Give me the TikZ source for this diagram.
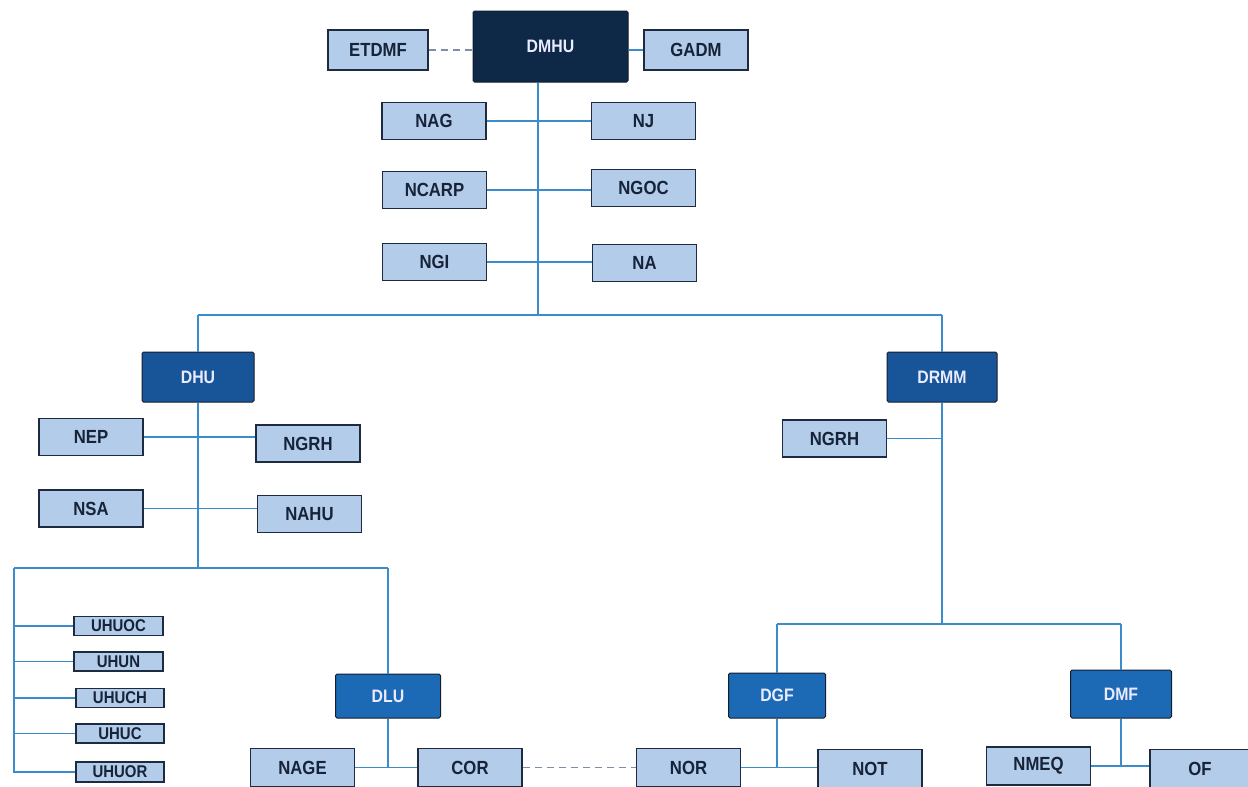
\documentclass[tikz,border=0pt]{standalone}
\usepackage{fontspec}
\setmainfont{Liberation Sans}[FakeStretch=0.88]
\definecolor{lineblue}{HTML}{3A8CCB}
\definecolor{lightfill}{HTML}{B2CCE9}
\definecolor{boxborder}{HTML}{1E2A40}
\definecolor{textnavy}{HTML}{162338}
\definecolor{topfill}{HTML}{0E2848}
\definecolor{dirfill}{HTML}{175598}
\definecolor{subfill}{HTML}{1C69B5}
\definecolor{dashgray}{HTML}{7D8DA5}
\tikzset{
  lbox/.style={draw=boxborder, fill=lightfill, line width=1.3pt, inner sep=0pt,
    text=textnavy, font=\fontsize{19}{19}\selectfont\bfseries, minimum width=104pt, minimum height=37pt},
  sbox/.style={lbox, font=\fontsize{17}{17}\selectfont\bfseries, minimum width=89pt, minimum height=19pt},
  dbox/.style={draw=boxborder!70!black, line width=1pt, rounded corners=1.5pt, inner sep=0pt,
    text=white!92!blue, font=\fontsize{18}{18}\selectfont\bfseries},
  conn/.style={draw=lineblue, line width=1.5pt},
  dconn/.style={draw=dashgray, line width=1.5pt, dash pattern=on 7pt off 5pt},
}
\begin{document}
\begin{tikzpicture}[x=1pt,y=-1pt]
\useasboundingbox (0,0) rectangle (1248,787);
% top
\node[dbox, fill=topfill, minimum width=155pt, minimum height=71pt] (dmhu) at (550.5,46.5) {DMHU};
\node[lbox, minimum width=100pt, minimum height=40pt] (etdmf) at (378,50) {ETDMF};
\node[lbox, minimum width=104pt, minimum height=40pt] (gadm) at (696,50) {GADM};
\node[lbox] (nag) at (434,121) {NAG};
\node[lbox] (nj) at (643.5,121) {NJ};
\node[lbox] (ncarp) at (434.5,190) {NCARP};
\node[lbox] (ngoc) at (643.5,188) {NGOC};
\node[lbox] (ngi) at (434.5,262) {NGI};
\node[lbox] (na) at (644.5,263) {NA};
% directorates
\node[dbox, fill=dirfill, minimum width=112pt, minimum height=50pt] (dhu) at (198,377) {DHU};
\node[dbox, fill=dirfill, minimum width=110pt, minimum height=50pt] (drmm) at (942,377) {DRMM};
\node[lbox] (nep) at (91,437) {NEP};
\node[lbox] (ngrha) at (308,443.5) {NGRH};
\node[lbox] (nsa) at (91,508.5) {NSA};
\node[lbox] (nahu) at (309.5,514) {NAHU};
\node[lbox] (ngrhb) at (834.5,438.5) {NGRH};
% UHU
\node[sbox] (uhuoc) at (118.5,626) {UHUOC};
\node[sbox] (uhun) at (118.5,661.5) {UHUN};
\node[sbox, minimum width=88pt] (uhuch) at (120,698) {UHUCH};
\node[sbox, minimum width=88pt] (uhuc) at (120,733.5) {UHUC};
\node[sbox, minimum width=88pt, minimum height=20pt] (uhuor) at (120,772) {UHUOR};
% sub-directorates
\node[dbox, fill=subfill, minimum width=105pt, minimum height=44pt] (dlu) at (388,696) {DLU};
\node[dbox, fill=subfill, minimum width=97pt, minimum height=45pt] (dgf) at (777,695.5) {DGF};
\node[dbox, fill=subfill, minimum width=101pt, minimum height=48pt] (dmf) at (1121,694) {DMF};
\node[lbox, minimum height=38pt] (nage) at (302.5,767.5) {NAGE};
\node[lbox, minimum height=38pt] (cor) at (470,767.5) {COR};
\node[lbox, minimum height=38pt] (nor) at (688.5,767.5) {NOR};
\node[lbox, minimum height=38pt] (not) at (870,768.5) {NOT};
\node[lbox, minimum height=38pt] (nmeq) at (1038.5,766) {NMEQ};
\node[lbox, minimum width=100pt, minimum height=38pt] (of) at (1200,768.5) {OF};
% coordinates
\coordinate (t1) at (538,315);
\coordinate (busL) at (198,315);
\coordinate (busR) at (942,315);
\coordinate (h2) at (198,568);
\coordinate (lx) at (14,568);
\coordinate (rx) at (388,568);
\coordinate (r3) at (942,624);
\coordinate (b3L) at (777,624);
\coordinate (b3R) at (1121,624);
% connectors
\draw[dconn] (etdmf.east) -- (etdmf.east -| dmhu.west);
\draw[conn] (dmhu.east |- gadm.west) -- (gadm.west);
\draw[conn] (dmhu.south -| t1) -- (t1);
\draw[conn] (nag.east) -- (nj.west);
\draw[conn] (ncarp.east) -- (ncarp.east -| ngoc.west);
\draw[conn] (ngi.east) -- (ngi.east -| na.west);
\draw[conn] (busL) -- (busR);
\draw[conn] (busL) -- (dhu.north);
\draw[conn] (busR) -- (drmm.north);
\draw[conn] (dhu.south) -- (h2);
\draw[conn] (nep.east) -- (nep.east -| ngrha.west);
\draw[conn] (nsa.east) -- (nsa.east -| nahu.west);
\draw[conn] (lx) -- (rx);
\draw[conn] (lx) -- (lx |- uhuor.west) -- (uhuor.west);
\draw[conn] (lx |- uhuoc.west) -- (uhuoc.west);
\draw[conn] (lx |- uhun.west) -- (uhun.west);
\draw[conn] (lx |- uhuch.west) -- (uhuch.west);
\draw[conn] (lx |- uhuc.west) -- (uhuc.west);
\draw[conn] (rx) -- (dlu.north);
\draw[conn] (dlu.south) -- (dlu.south |- nage.east);
\draw[conn] (nage.east) -- (cor.west);
\draw[dconn] (cor.east) -- (nor.west);
\draw[conn] (drmm.south) -- (r3);
\draw[conn] (ngrhb.east) -- (ngrhb.east -| drmm.south);
\draw[conn] (b3L) -- (b3R);
\draw[conn] (b3L) -- (dgf.north);
\draw[conn] (b3R) -- (dmf.north);
\draw[conn] (dgf.south) -- (dgf.south |- nor.east);
\draw[conn] (nor.east) -- (nor.east -| not.west);
\draw[conn] (dmf.south) -- (dmf.south |- nmeq.east);
\draw[conn] (nmeq.east) -- (nmeq.east -| of.west);
\end{tikzpicture}
\end{document}
